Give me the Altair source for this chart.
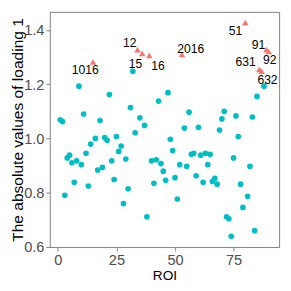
import altair as alt
import pandas as pd

roi = list(range(1, 91))
loading = [
    1.069, 1.062, 0.790, 0.928, 0.938, 0.910, 0.838, 0.917, 1.193, 0.903,
    1.090, 0.945, 0.824, 0.979, 1.283, 1.000, 0.883, 1.066, 0.893, 1.003,
    0.993, 1.162, 0.917, 0.848, 1.007, 0.952, 0.972, 0.759, 0.924, 0.814,
    1.114, 1.248, 1.021, 1.328, 1.076, 1.314, 1.048, 0.710, 1.307, 0.917,
    0.834, 0.921, 1.138, 0.907, 0.879, 0.845, 1.169, 0.997, 0.955, 0.855,
    0.776, 0.903, 1.310, 1.038, 0.897, 1.097, 0.941, 0.945, 0.862, 1.041,
    0.938, 0.838, 0.945, 0.903, 0.941, 0.841, 0.852, 0.831, 1.031, 1.072,
    1.100, 0.710, 0.703, 0.638, 0.928, 1.083, 1.007, 0.831, 0.745, 1.428,
    0.786, 0.897, 1.079, 0.659, 1.155, 1.255, 1.248, 1.193, 1.328, 1.321,
]
highlight_roi = [15, 34, 36, 39, 53, 80, 86, 87, 89, 90]
highlight_name = ["1016", "12", "15", "16", "2016", "51", "631", "632", "91", "92"]
label_dx = [-8, -8, -7, 9, 9, -10, -14, 6, -8, 1]
label_dy = [9, -7, 11, 11, -6, 9, -7, 9, -5, 9]

x_ticks = [0, 25, 50, 75]
y_ticks = [0.6, 0.8, 1.0, 1.2, 1.4]

name_map = dict(zip(highlight_roi, highlight_name))
df = pd.DataFrame({"ROI": roi, "loading": loading})
df["name"] = [name_map.get(r, "") for r in roi]

W, H = 236, 242
FONT = "Liberation Sans"

x = alt.X(
    "ROI:Q",
    scale=alt.Scale(domain=[-3.45, 94.45], nice=False, zero=False),
    axis=alt.Axis(values=x_ticks, title="ROI", titleFontSize=14, titlePadding=1),
)
y = alt.Y(
    "loading:Q",
    scale=alt.Scale(domain=[0.5985, 1.4675], nice=False, zero=False),
    axis=alt.Axis(
        values=y_ticks,
        format=".1f",
        title="The absolute values of loading 1",
        titleFontSize=16,
        titleX=-33,
        titleY=H / 2,
        titleAngle=270,
        titleAlign="center",
        titleBaseline="middle",
    ),
)

base = alt.Chart(df)
circles = base.transform_filter("datum.name == ''").mark_point(
    filled=True, shape="circle", size=34, opacity=1, color="#00BFC4"
).encode(x=x, y=y)
triangles = base.transform_filter("datum.name != ''").mark_point(
    filled=True, shape="triangle-up", size=45, opacity=1, color="#F8766D"
).encode(x=x, y=y)

layers = [circles, triangles]
for n, dx, dy in zip(highlight_name, label_dx, label_dy):
    layers.append(
        base.transform_filter(alt.datum.name == n)
        .mark_text(dx=dx, dy=dy, fontSize=12.5, font=FONT, color="black",
                   align="center", baseline="middle")
        .encode(x=x, y=y, text="name:N")
    )

chart = alt.layer(*layers).properties(
    width=W,
    height=H,
    autosize=alt.AutoSizeParams(type="none"),
    padding={"left": 43, "top": 0, "right": 4, "bottom": 33},
).configure_view(
    stroke="#808080", strokeWidth=1
).configure_axis(
    grid=False,
    domain=False,
    tickColor="#808080",
    tickSize=4,
    labelFont=FONT,
    labelFontSize=15,
    labelColor="#4D4D4D",
    labelPadding=2,
    labelFlush=False,
    titleFont=FONT,
    titleFontWeight="normal",
    titleColor="black",
)

chart.save("out.html", embed_options={"renderer": "svg", "actions": False})
